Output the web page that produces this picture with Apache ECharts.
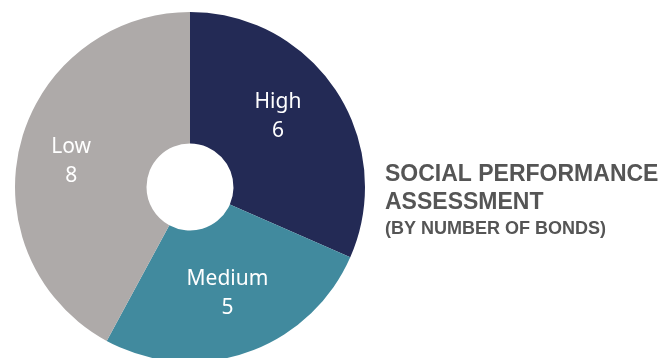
<!DOCTYPE html>
<html>
<head>
<meta charset="utf-8">
<script src="https://cdn.jsdelivr.net/npm/echarts@6/dist/echarts.min.js"></script>
</head>
<body style="margin:0;background:#fff;">
<div id="chart" style="width:666px;height:358px;"></div>
<script>
var categories = ['High', 'Medium', 'Low'];
var values = [6, 5, 8];
var colors = ['#232a55', '#418a9e', '#aeaaa9'];

var chart = echarts.init(document.getElementById('chart'));

// small nudges so the labels sit where the original placed them
var labelNudge = { High: [-6, -9], Medium: [1, 0], Low: [-10, 2] };

var option = {
    animation: false,
    title: {
        text: '{a|SOCIAL PERFORMANCE}\n{a|ASSESSMENT}\n{b|(BY NUMBER OF BONDS)}',
        left: 385,
        top: 161,
        padding: 0,
        textStyle: {
            rich: {
                a: { fontFamily: 'Liberation Sans', fontWeight: 'bold', fontSize: 23, color: '#555555', lineHeight: 27.5 },
                b: { fontFamily: 'Liberation Sans', fontWeight: 'bold', fontSize: 18, color: '#555555', lineHeight: 26 }
            }
        }
    },
    series: [{
        type: 'pie',
        center: [190, 187],
        radius: [43.5, 175],
        startAngle: 90,
        clockwise: true,
        label: {
            position: 'inside',
            formatter: '{b}\n{c}',
            color: '#ffffff',
            fontFamily: 'Noto Sans',
            fontSize: 21,
            lineHeight: 29
        },
        labelLine: { show: false },
        itemStyle: { borderWidth: 0 },
        emphasis: { disabled: true },
        data: categories.map(function (c, i) {
            return {
                name: c,
                value: values[i],
                itemStyle: { color: colors[i] },
                label: { offset: labelNudge[c] }
            };
        })
    }]
};
chart.setOption(option);
</script>
</body>
</html>
